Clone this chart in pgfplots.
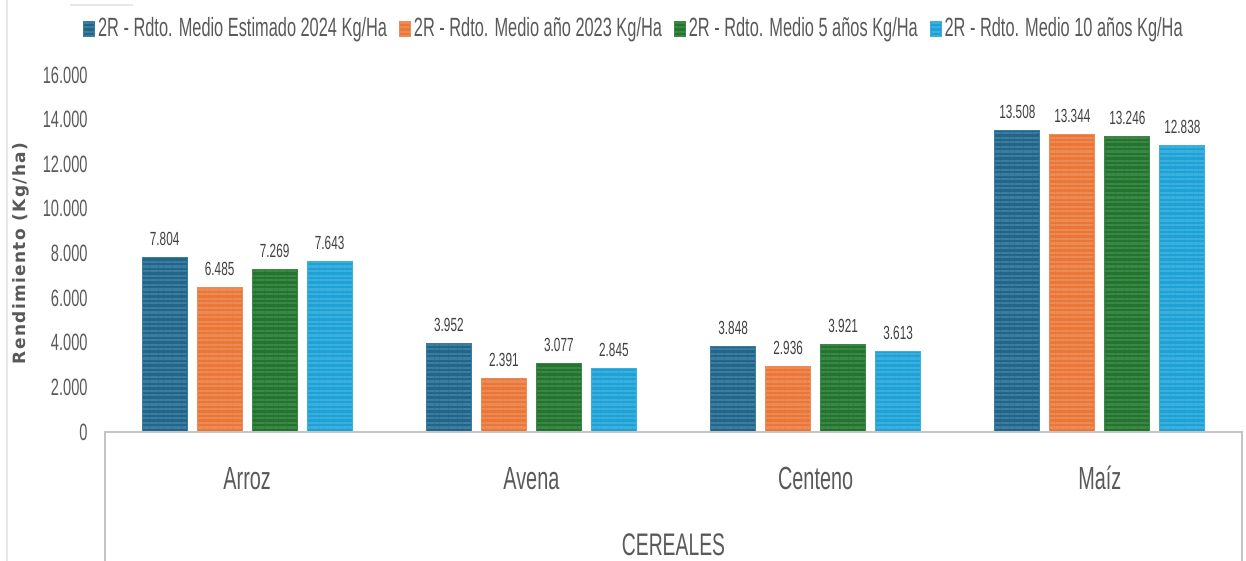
\documentclass[border=0pt]{standalone}
\usepackage{pgfplots}
\pgfplotsset{compat=1.18}
\usetikzlibrary{patterns.meta}
\usepackage{fontspec}
\setmainfont{Liberation Sans}[FakeStretch=0.62]
\newfontfamily\ylabfont{DejaVu Sans}[LetterSpace=8]

\definecolor{txt}{HTML}{595959}
\definecolor{lbl}{HTML}{404040}
\definecolor{axl}{HTML}{C4C4C4}
\definecolor{cA}{HTML}{22658A}\definecolor{cAl}{HTML}{3C7D9D}
\definecolor{cB}{HTML}{EA7738}\definecolor{cBl}{HTML}{EC8B56}
\definecolor{cC}{HTML}{22742F}\definecolor{cCl}{HTML}{3C8746}
\definecolor{cD}{HTML}{1EA2D6}\definecolor{cDl}{HTML}{3BB0DE}

\tikzset{
  stripes/.style={postaction={pattern={Lines[angle=0,distance=2.3pt,line width=1.1pt]}, pattern color=#1}}
}

\begin{document}
\begin{tikzpicture}
\begin{axis}[
    scale only axis,
    width=568.5pt, height=178.5pt,
    ybar=5pt, bar width=22.5pt,
    xmin=-0.5, xmax=3.5,
    ymin=0, ymax=16000,
    xtick=data,
    xticklabels={Arroz,Avena,Centeno,Ma\'{\i}z},
    ytick={0,2000,...,16000},
    scaled y ticks=false,
    /pgf/number format/.cd, 1000 sep={.}, assume math mode=true, /pgfplots/.cd,
    axis line style={draw=none},
    major tick length=0pt,
    clip=false,
    tick label style={text=txt},
    yticklabel style={font=\fontsize{11.8}{13}\selectfont, anchor=east, inner sep=0pt, xshift=-8.5pt},
    xticklabel style={font=\fontsize{16}{18}\selectfont, anchor=base, yshift=-28.5pt},
    xlabel={CEREALES},
    xlabel style={at={(axis description cs:0.5,0)}, anchor=base, yshift=-61.5pt,
        font=\fontsize{15.6}{18}\selectfont, text=txt},
    ylabel={\ylabfont\bfseries Rendimiento (Kg/ha)},
    ylabel style={at={(axis description cs:-0.0739,0.5)}, anchor=center,
        font=\fontsize{8.5}{10}\selectfont, text=txt},
    nodes near coords,
    every node near coord/.append style={font=\fontsize{9.5}{11}\selectfont, text=lbl, anchor=base, yshift=6pt},
    legend style={at={(axis description cs:0.4657,1.1317)}, anchor=center,
        draw=none, fill=none, legend columns=-1,
        font=\fontsize{13.2}{15}\selectfont, text=txt,
        nodes={inner xsep=1.5pt},
        /tikz/every even column/.append style={column sep=4.5pt}},
    legend image code/.code={\fill[#1] (0pt,-4pt) rectangle (5.5pt,3.5pt);},
]
\addplot[fill=cA, draw=cAl, line width=0.4pt, stripes=cAl] coordinates {(0,7804) (1,3952) (2,3848) (3,13508)};
\addplot[fill=cB, draw=cBl, line width=0.4pt, stripes=cBl] coordinates {(0,6485) (1,2391) (2,2936) (3,13344)};
\addplot[fill=cC, draw=cCl, line width=0.4pt, stripes=cCl] coordinates {(0,7269) (1,3077) (2,3921) (3,13246)};
\addplot[fill=cD, draw=cDl, line width=0.4pt, stripes=cDl] coordinates {(0,7643) (1,2845) (2,3613) (3,12838)};
\legend{2R - Rdto. Medio Estimado 2024 Kg/Ha, 2R - Rdto. Medio a\~no 2023 Kg/Ha, 2R - Rdto. Medio 5 a\~nos Kg/Ha, 2R - Rdto. Medio 10 a\~nos Kg/Ha}
\draw[axl, line width=1pt] (axis description cs:0,-0.36134) -- (axis description cs:0,0)
    -- (axis description cs:1,0) -- (axis description cs:1,-0.36134);
\draw[gray!18, line width=0.6pt] (axis description cs:-0.08619,-0.36134) -- (axis description cs:-0.08619,1.21008);
\draw[gray!18, line width=0.6pt] (axis description cs:-0.03078,1.1961) -- (axis description cs:0.02463,1.1961);
\coordinate (bl) at (axis description cs:-0.09235,-0.36134);
\coordinate (tr) at (axis description cs:1.00352,1.21008);
\end{axis}
\pgfresetboundingbox
\useasboundingbox (bl) rectangle (tr);
\end{tikzpicture}
\end{document}
